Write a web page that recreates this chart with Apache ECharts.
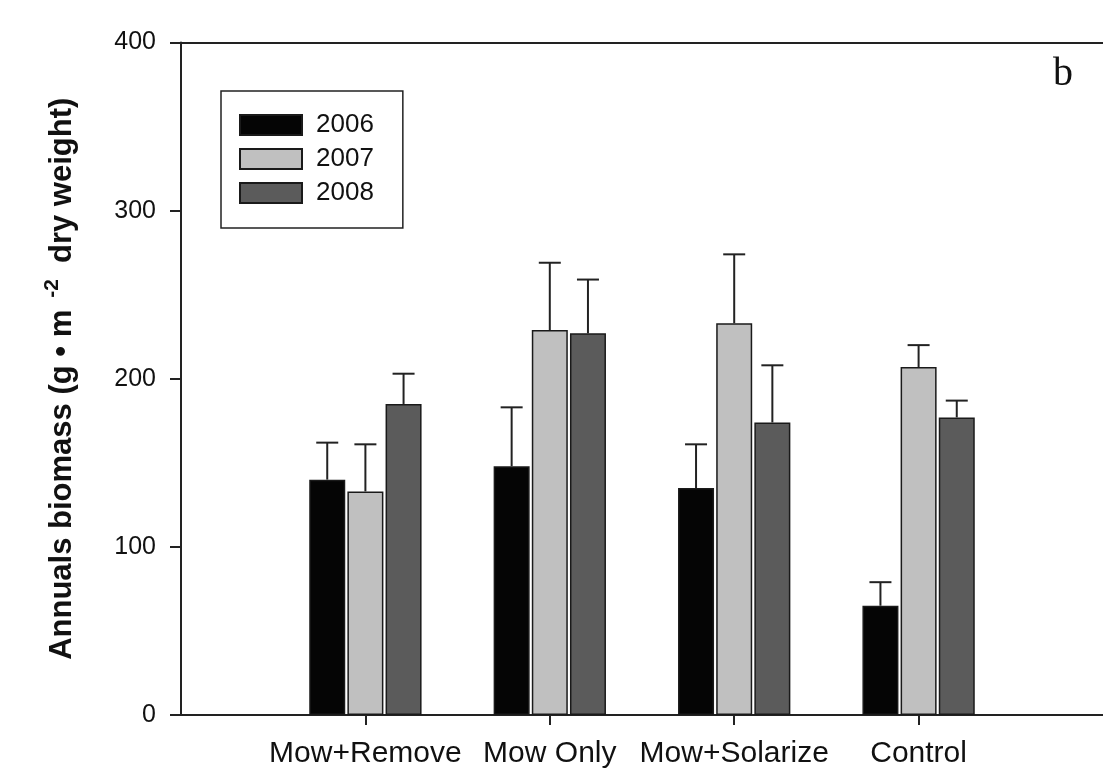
<!DOCTYPE html>
<html>
<head>
<meta charset="utf-8">
<script src="https://cdn.jsdelivr.net/npm/echarts@6/dist/echarts.min.js"></script>
<style>
html,body{margin:0;padding:0;background:#fff;}
#chart{width:1103px;height:779px;}
</style>
</head>
<body>
<div id="chart"></div>
<script>
// ---- data ----
var categories = ['Mow+Remove', 'Mow Only', 'Mow+Solarize', 'Control'];
var years = ['2006', '2007', '2008'];
var values2006 = [140, 148, 135, 65];
var values2007 = [133, 229, 233, 207];
var values2008 = [185, 227, 174, 177];
var se2006 = [22, 35, 26, 14];
var se2007 = [28, 40, 41, 13];
var se2008 = [18, 32, 34, 10];
var yTicks = [0, 100, 200, 300, 400];

var seriesValues = [values2006, values2007, values2008];
var seriesSE = [se2006, se2007, se2008];
var colors = ['#050505', '#c0c0c0', '#5b5b5b'];

// axis has an empty slot on each side of the four groups
var axisCats = [''].concat(categories).concat(['']);

var BAR_W = 36;
var GAP_RATIO = 0.06;
var FONT = '"Liberation Sans", Arial, sans-serif';

var series = [];
years.forEach(function (yr, s) {
  series.push({
    name: yr,
    type: 'bar',
    barWidth: BAR_W,
    barGap: (GAP_RATIO * 100) + '%',
    itemStyle: { color: colors[s], borderColor: '#1a1a1a', borderWidth: 1.5 },
    data: ['-'].concat(seriesValues[s]).concat(['-']),
    z: 3
  });
});
years.forEach(function (yr, s) {
  var d = seriesValues[s].map(function (v, i) { return [i + 1, v, v + seriesSE[s][i]]; });
  series.push({
    type: 'custom',
    name: 'err' + yr,
    data: d,
    z: 4,
    silent: true,
    renderItem: function (params, api) {
      var idx = api.value(0);
      var base = api.coord([idx, api.value(1)]);
      var top = api.coord([idx, api.value(2)]);
      var step = BAR_W * (1 + GAP_RATIO);
      var x = base[0] + (s - 1) * step;
      var half = 11;
      var st = { stroke: '#222', lineWidth: 2 };
      return {
        type: 'group',
        children: [
          { type: 'line', shape: { x1: x, y1: base[1], x2: x, y2: top[1] }, style: st },
          { type: 'line', shape: { x1: x - half, y1: top[1], x2: x + half, y2: top[1] }, style: st }
        ]
      };
    }
  });
});

var chart = echarts.init(document.getElementById('chart'), null, { renderer: 'canvas' });
chart.setOption({
  backgroundColor: '#fff',
  animation: false,
  grid: { left: 181, top: 42.5, width: 960, bottom: 64, containLabel: false },
  legend: {
    data: years.map(function (y) { return { name: y, icon: 'rect' }; }),
    orient: 'vertical',
    left: 221,
    top: 91,
    itemWidth: 62,
    itemHeight: 20,
    itemGap: 8,
    padding: [21, 29, 22, 18],
    borderColor: '#222',
    borderWidth: 1.5,
    selectedMode: false,
    textStyle: { fontFamily: FONT, fontSize: 26, color: '#111', padding: [0, 0, 0, 9] }
  },
  xAxis: [{
    type: 'category',
    data: axisCats,
    boundaryGap: false,
    axisLine: { show: true, lineStyle: { color: '#222', width: 2 } },
    axisTick: { show: true, length: 10, lineStyle: { color: '#222', width: 2 },
      interval: function (i) { return i > 0 && i < axisCats.length - 1; } },
    axisLabel: { fontFamily: FONT, fontSize: 30, color: '#111', margin: 24,
      interval: function (i) { return i > 0 && i < axisCats.length - 1; } },
    splitLine: { show: false }
  }, {
    type: 'category',
    position: 'top',
    data: axisCats,
    boundaryGap: false,
    axisLine: { show: true, lineStyle: { color: '#222', width: 2 } },
    axisTick: { show: false },
    axisLabel: { show: false },
    splitLine: { show: false }
  }],
  yAxis: {
    type: 'value',
    min: yTicks[0],
    max: yTicks[yTicks.length - 1],
    interval: yTicks[1] - yTicks[0],
    axisLine: { show: true, lineStyle: { color: '#222', width: 2 } },
    axisTick: { show: true, length: 11, lineStyle: { color: '#222', width: 2 } },
    axisLabel: { fontFamily: FONT, fontSize: 25, color: '#111', margin: 25 },
    splitLine: { show: false },
    name: '{t|Annuals biomass (g \u2022 m}{s|-2}{t|dry weight)}',
    nameLocation: 'middle',
    nameRotate: 90,
    nameGap: 98,
    nameTextStyle: {
      fontFamily: FONT, fontWeight: 'bold', fontSize: 31, color: '#111',
      rich: {
        t: { fontFamily: FONT, fontWeight: 'bold', fontSize: 31, color: '#111' },
        s: { fontFamily: FONT, fontWeight: 'bold', fontSize: 21, color: '#111', padding: [0, 16, 20, 12] }
      }
    }
  },
  graphic: [{
    type: 'text',
    left: 1053,
    top: 54,
    style: { text: 'b', fontFamily: '"Liberation Serif", "DejaVu Serif", serif', fontSize: 40, fill: '#111' }
  }],
  series: series
});
</script>
</body>
</html>
